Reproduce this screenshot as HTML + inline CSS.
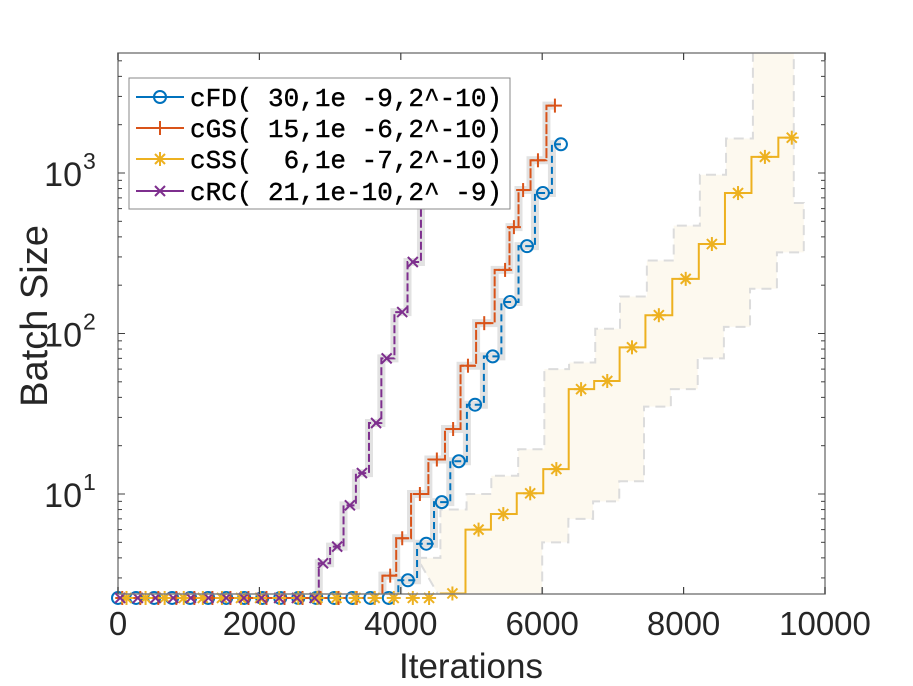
<!DOCTYPE html>
<html><head><meta charset="utf-8"><style>
body{margin:0;background:#fff;}
svg{display:block;font-family:"Liberation Sans",Arial,sans-serif;}
.mono{font-family:"Liberation Mono",monospace;white-space:pre;}
</style></head><body>
<svg id="chart" width="913" height="686" viewBox="0 0 913 686" xmlns="http://www.w3.org/2000/svg">
<defs><clipPath id="plotclip"><rect x="118" y="53" width="707" height="541"/></clipPath></defs>
<rect x="0" y="0" width="913" height="686" fill="#fff"/>
<g id="bands" clip-path="url(#plotclip)"></g>
<g id="lines" clip-path="url(#plotclip)"></g>
<g id="markers"></g>
<g id="axes"></g>
<g id="legend">
<rect x="129" y="78" width="381" height="131" fill="#fff" stroke="#888" stroke-width="1"/>
</g>
<text x="471" y="678" font-size="35" text-anchor="middle" fill="#262626">Iterations</text>
<text transform="translate(47,316) rotate(-90)" font-size="38" text-anchor="middle" fill="#262626">Batch Size</text>
</svg>
<script>
const xTicks=[0,2000,4000,6000,8000,10000];
const yDecades=[1,2,3];
const cfdIters=[0,255,510,765,1020,1275,1530,1785,2040,2295,2550,2805,3060,3315,3570,3830,4100,4360,4580,4820,5050,5300,5545,5785,6010,6265];
const cfdVals=[2.25,2.25,2.25,2.25,2.25,2.25,2.25,2.25,2.25,2.25,2.25,2.25,2.25,2.25,2.25,2.25,2.9,4.9,8.9,16,36,72,157,350,750,1510];
const cgsIters=[60,315,570,825,1080,1335,1590,1845,2100,2355,2610,2865,3120,3375,3630,3850,4020,4270,4510,4740,4950,5180,5475,5600,5730,5940,6180];
const cgsVals=[2.25,2.25,2.25,2.25,2.25,2.25,2.25,2.25,2.25,2.25,2.25,2.25,2.25,2.25,2.25,3.1,5.3,10,16.4,25.4,63,116,249,460,783,1200,2630];
const cssIters=[120,390,660,930,1200,1470,1740,2010,2280,2550,2820,3090,3360,3630,3900,4170,4400,4730,5100,5450,5830,6200,6550,6920,7270,7650,8030,8400,8770,9150,9530];
const cssVals=[2.25,2.25,2.25,2.25,2.25,2.25,2.25,2.25,2.25,2.25,2.25,2.25,2.25,2.25,2.25,2.25,2.25,2.4,6,7.5,10.1,14.3,45,50.6,82,130,219,361,750,1260,1660];
const cssBandIters=[4400,4730,5100,5450,5830,6200,6550,6920,7270,7650,8030,8400,8770,9150,9530];
const cssHi=[4,8,10,13,19,60,66,107,170,285,470,975,1640,6000,8000];
const cssLo=[2.2,2.2,2.2,2.2,5,7,9,12,35,45,70,110,190,320,650];
const crcIters=[30,280,530,780,1030,1280,1530,1780,2030,2280,2530,2780,2900,3100,3280,3450,3650,3800,4020,4170,4400,4550];
const crcVals=[2.25,2.25,2.25,2.25,2.25,2.25,2.25,2.25,2.25,2.25,2.25,2.25,3.7,4.7,8.5,13.5,27.7,70,136,279,650,1300];

const NS="http://www.w3.org/2000/svg";
const X0=118,X1=825,Y0=53,YB=594;
function X(i){return X0+(i/10000)*(X1-X0);}
function Y(v){return 494-160.5*(Math.log10(v)-1);}
function mk(tag,attrs,parent){const e=document.createElementNS(NS,tag);for(const k in attrs)e.setAttribute(k,attrs[k]);parent.appendChild(e);return e;}
function stepPath(it,vs){let d="M"+X(it[0])+","+Y(vs[0]);for(let k=1;k<it.length;k++){const xm=(X(it[k-1])+X(it[k]))/2;d+=" H"+xm+" V"+Y(vs[k])+" H"+X(it[k]);}return d;}
const bandsG=document.getElementById('bands'),linesG=document.getElementById('lines'),markersG=document.getElementById('markers'),axesG=document.getElementById('axes'),legendG=document.getElementById('legend');

let upperD="";
for(let k=0;k<cssBandIters.length;k++){const x=X(cssBandIters[k])-12;upperD+=(k?" L":"M")+x+","+Y(cssHi[k])+" L"+(X(cssBandIters[k+1]||10000)-12)+","+Y(cssHi[k]);}
let lowPts=[];
for(let k=0;k<cssBandIters.length;k++){const x=X(cssBandIters[k])+12;lowPts.push([x,Y(cssLo[k])]);lowPts.push([(k+1<cssBandIters.length?X(cssBandIters[k+1])+12:X(cssBandIters[k])+2),Y(cssLo[k])]);}
lowPts.reverse();
let poly=upperD+" L"+(X(9530)+2)+","+Y(8000);for(const p of lowPts)poly+=" L"+p[0]+","+p[1];poly+=" Z";
const band=mk('path',{d:poly,fill:'#fdf9ef',stroke:'#dcdcdc','stroke-width':2,'stroke-dasharray':'10,6'},bandsG);



const series=[
 {name:'cfd',it:cfdIters,v:cfdVals,c:'#0072BD',m:'o',dash:'7,4'},
 {name:'cgs',it:cgsIters,v:cgsVals,c:'#D95319',m:'+',dash:'10,2'},
 {name:'css',it:cssIters,v:cssVals,c:'#EDB120',m:'*',dash:'none'},
 {name:'crc',it:crcIters,v:crcVals,c:'#7E2F8E',m:'x',dash:'8,3'}];
function drawMarker(type,cx,cy,c,parent){
 const g=mk('g',{stroke:c,'stroke-width':2,fill:'none'},parent);
 if(type==='o')mk('circle',{cx:cx,cy:cy,r:6},g);
 else if(type==='+'){mk('line',{x1:cx-7,y1:cy,x2:cx+7,y2:cy},g);mk('line',{x1:cx,y1:cy-7,x2:cx,y2:cy+7},g);}
 else if(type==='x'){mk('line',{x1:cx-5,y1:cy-5,x2:cx+5,y2:cy+5},g);mk('line',{x1:cx-5,y1:cy+5,x2:cx+5,y2:cy-5},g);}
 else {mk('line',{x1:cx-7,y1:cy,x2:cx+7,y2:cy},g);mk('line',{x1:cx,y1:cy-7,x2:cx,y2:cy+7},g);mk('line',{x1:cx-5,y1:cy-5,x2:cx+5,y2:cy+5},g);mk('line',{x1:cx-5,y1:cy+5,x2:cx+5,y2:cy-5},g);}
 return g;}
for(const s of series){
 if(s.name!=='css'){const sh=mk('path',{d:stepPath(s.it,s.v),fill:'none',stroke:'#e2e2e2','stroke-width':8},linesG);
  
  }
}
for(const s of series){
 const p=mk('path',{d:stepPath(s.it,s.v),fill:'none',stroke:s.c,'stroke-width':2,'stroke-dasharray':s.dash},linesG);
 
 
}
for(const s of series){
 for(let k=0;k<s.it.length;k++){const g=drawMarker(s.m,X(s.it[k]),Math.min(Y(s.v[k]),598),s.c,markersG);
  
  }
}
const box=mk('rect',{x:X0,y:Y0,width:X1-X0,height:YB-Y0,fill:'none',stroke:'#808080','stroke-width':1.5},axesG);


for(const t of xTicks){const x=X(t);
 mk('line',{x1:x,y1:YB,x2:x,y2:YB-7,stroke:'#404040','stroke-width':1.2},axesG);
 mk('line',{x1:x,y1:Y0,x2:x,y2:Y0+7,stroke:'#404040','stroke-width':1.2},axesG);
 const tx=mk('text',{x:x,y:635,'font-size':33,'text-anchor':'middle',fill:'#262626'},axesG);tx.textContent=String(t);
 
 }
for(let d=0;d<=3;d++){for(let m=1;m<=9;m++){const v=m*Math.pow(10,d);const y=Y(v);if(y<Y0||y>YB)continue;const len=m===1?7:4;
 mk('line',{x1:X0,y1:y,x2:X0+len,y2:y,stroke:'#404040','stroke-width':1},axesG);
 mk('line',{x1:X1,y1:y,x2:X1-len,y2:y,stroke:'#404040','stroke-width':1},axesG);}}
for(const d of yDecades){const y=Y(Math.pow(10,d));
 const tx=mk('text',{x:82,y:y+13,'font-size':34,'text-anchor':'end',fill:'#262626'},axesG);tx.textContent='10';
 
 
 const sp=mk('text',{x:83,y:y-4,'font-size':23,'text-anchor':'start',fill:'#262626'},axesG);sp.textContent=String(d);}
const labels=['cFD( 30,1e -9,2^-10)','cGS( 15,1e -6,2^-10)','cSS(  6,1e -7,2^-10)','cRC( 21,1e-10,2^ -9)'];
const rows=[97,128,159,191];
series.forEach((s,k)=>{
 const g=mk('g',{},legendG);
 
 
 mk('line',{x1:136,y1:rows[k],x2:184,y2:rows[k],stroke:s.c,'stroke-width':2},g);
 drawMarker(s.m,160,rows[k],s.c,g);
 const t=mk('text',{x:190,y:rows[k]+9,'font-size':26,fill:'#000','class':'mono','stroke':'#000','stroke-width':0.4},g);
 t.textContent=labels[k];
});
</script>
</body></html>
